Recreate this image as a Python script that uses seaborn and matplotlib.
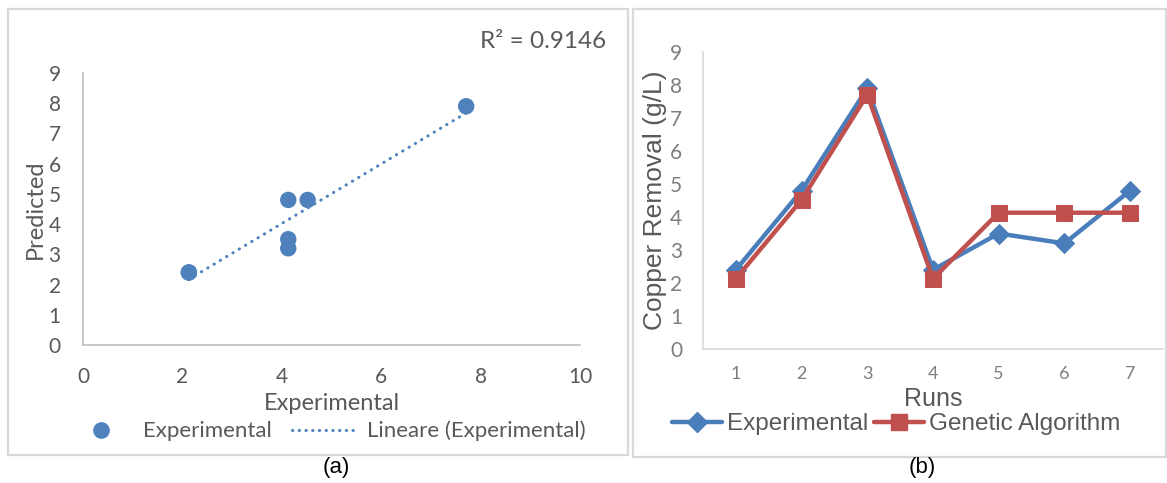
import numpy as np
import pandas as pd
import matplotlib
matplotlib.use("Agg")
import matplotlib.pyplot as plt
from matplotlib.lines import Line2D
from matplotlib.patches import Rectangle
import seaborn as sns

# ---------------- data ----------------
runs = [1, 2, 3, 4, 5, 6, 7]
experimental = [2.4, 4.8, 7.9, 2.4, 3.5, 3.2, 4.8]
genetic_algorithm = [2.13, 4.52, 7.71, 2.13, 4.13, 4.13, 4.13]
r2_label = "R² = 0.9146"
left_xticks = [0, 2, 4, 6, 8, 10]
yticks = [0, 1, 2, 3, 4, 5, 6, 7, 8, 9]

sns.set_style("white")
plt.rcParams["font.family"] = ["Lato", "DejaVu Sans"]

BLUE = "#4F81BD"
RED = "#C0504D"
TXT = "#595959"
GRID = "#BFBFBF"

W, H = 1167, 483
fig = plt.figure(figsize=(W / 100, H / 100), dpi=100)


def fx(px):
    return px / W


def fy(py):
    return 1 - py / H


# panel borders
fig.patches.append(Rectangle((fx(8), fy(455)), fx(620), (455 - 9) / H,
                             transform=fig.transFigure, fill=False,
                             edgecolor="#D9D9D9", lw=1.6))
fig.patches.append(Rectangle((fx(633), fy(457)), fx(533), (457 - 9) / H,
                             transform=fig.transFigure, fill=False,
                             edgecolor="#D9D9D9", lw=1.6))

# ---------------- left panel ----------------
axL = fig.add_axes([fx(83), fy(345), fx(580 - 83), (345 - 73) / H])
df = pd.DataFrame({"x": genetic_algorithm, "y": experimental})
sns.regplot(data=df, x="x", y="y", ax=axL, scatter=False, ci=None,
            truncate=True,
            line_kws=dict(color=BLUE, lw=2.2, linestyle=(0, (0.1, 2.3)),
                          dash_capstyle="round"))
sns.scatterplot(data=df, x="x", y="y", ax=axL, color=BLUE, s=140,
                edgecolor="none", zorder=3)
axL.set_xlim(0, 10)
axL.set_ylim(0, 9)
axL.set_xticks(left_xticks)
axL.set_yticks(yticks)
axL.tick_params(axis="both", length=0, labelsize=15, labelcolor=TXT)
axL.tick_params(axis="x", pad=16)
axL.tick_params(axis="y", pad=16)
for s in ["top", "right"]:
    axL.spines[s].set_visible(False)
for s in ["left", "bottom"]:
    axL.spines[s].set_color(GRID)
    axL.spines[s].set_linewidth(1.2)
axL.set_xlabel("Experimental", fontsize=17, color=TXT, labelpad=4)
axL.set_ylabel("Predicted", fontsize=17, color=TXT, labelpad=2)
fig.text(fx(606), fy(42), r2_label, ha="right", va="center",
         fontsize=17.5, color=TXT)

hL = [Line2D([], [], marker="o", color=BLUE, linestyle="none", markersize=11),
      Line2D([], [], color=BLUE, lw=2.2, linestyle=(0, (0.1, 2.1)),
             dash_capstyle="round")]
fig.legend(hL, ["Experimental", "Lineare (Experimental)"], loc="center",
           bbox_to_anchor=(fx(327), fy(431)), ncol=2, frameon=False,
           fontsize=16, labelcolor=TXT, handlelength=2.9,
           handletextpad=0.45, columnspacing=0.9)
arial = ["Liberation Sans", "DejaVu Sans"]
fig.text(fx(336), fy(467), "(a)", ha="center", va="center", fontsize=16,
         color="black", family=arial)

# ---------------- right panel ----------------
axR = fig.add_axes([fx(703), fy(349), fx(1163 - 703), (349 - 52) / H])
sns.lineplot(x=runs, y=experimental, ax=axR, color="#4A7EBB", lw=3.2,
             marker="D", markersize=10, markeredgecolor="#4A7EBB")
sns.lineplot(x=runs, y=genetic_algorithm, ax=axR, color=RED, lw=3.2,
             marker="s", markersize=12, markeredgecolor=RED)
axR.set_xlim(0.5, 7.5)
axR.set_ylim(0, 9)
axR.set_xticks(runs)
axR.set_yticks(yticks)
axR.tick_params(axis="x", length=0, labelsize=13, labelcolor="#7F7F7F", pad=12)
axR.tick_params(axis="y", length=0, labelsize=15, labelcolor="#7F7F7F", pad=15)
for s in ["top", "right"]:
    axR.spines[s].set_visible(False)
for s in ["left", "bottom"]:
    axR.spines[s].set_color("#D9D9D9")
    axR.spines[s].set_linewidth(1.2)
axR.set_xlabel("Runs", fontsize=18, color=TXT, labelpad=4, family=arial)
axR.set_ylabel("Copper Removal (g/L)", fontsize=19, color=TXT, labelpad=2,
               family=arial)

hR = [Line2D([], [], color="#4A7EBB", lw=3.2, marker="D", markersize=10),
      Line2D([], [], color=RED, lw=3.2, marker="s", markersize=12)]
fig.legend(hR, ["Experimental", "Genetic Algorithm"], loc="center",
           bbox_to_anchor=(fx(896), fy(424)), ncol=2, frameon=False,
           prop=dict(family=arial, size=17.5), labelcolor=TXT,
           handlelength=2.05, handletextpad=0.2, columnspacing=0.25)
fig.text(fx(922), fy(467), "(b)", ha="center", va="center", fontsize=16,
         color="black", family=arial)

fig.savefig("out.png", dpi=100, facecolor="white")
